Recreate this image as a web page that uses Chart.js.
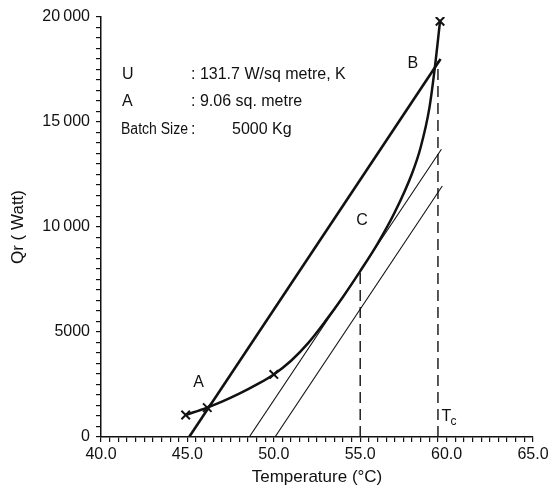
<!DOCTYPE html>
<html>
<head>
<meta charset="utf-8">
<script src="https://cdn.jsdelivr.net/npm/chart.js@4.4.1/dist/chart.umd.min.js"></script>
<style>
  html, body { margin: 0; padding: 0; background: #fff; }
  #wrap { width: 554px; height: 492px; }
</style>
</head>
<body>
<div id="wrap"><canvas id="qrChart"></canvas></div>
<script>
// heat generation curve
const curveTemp = [44.9, 46.15, 47, 48, 49, 50, 51, 52, 53, 54, 55, 56, 57, 58, 58.5, 59, 59.33, 59.62]
const curveQ = [1050, 1400, 1680, 2060, 2490, 2980, 3630, 4480, 5530, 6670, 7900, 9200, 10700, 12550, 13800, 15650, 17660, 19800]

// measured points (x marks)
const markTemp = [44.9, 46.15, 50.0, 59.62]
const markQ = [1050, 1400, 2980, 19800]

// heat removal lines
const removalTemp = [45.1, 59.65]
const removalQ = [0, 18000]
const thin1Temp = [48.58, 59.7]
const thin1Q = [0, 13700]
const thin2Temp = [50.07, 59.75]
const thin2Q = [0, 11950]

// dashed drop lines at C and Tc
const dashCTemp = [55, 55]
const dashCQ = [0, 8100]
const dashTcTemp = [59.5, 59.5]
const dashTcQ = [0, 17900]

const infoLabels = ['U', 'A', 'Batch Size']
const infoValues = [': 131.7 W/sq metre, K', ': 9.06 sq. metre', ':', '5000 Kg']

const FONT = '"Liberation Sans", Arial, sans-serif'

function pts(xs, ys) {
    return xs.map((x, i) => ({x: x, y: ys[i]}))
}

function lineSet(xs, ys, width, dash) {
    return {
        data: pts(xs, ys),
        borderColor: '#111',
        borderWidth: width,
        borderDash: dash || [],
        pointRadius: 0,
        fill: false,
    }
}

// text written on the plot (info block and point letters)
const notesPlugin = {
    id: 'notes',
    afterDatasetsDraw(chart) {
        const ctx = chart.ctx
        const xs = chart.scales.x
        const ys = chart.scales.y
        ctx.save()
        ctx.fillStyle = '#111'
        ctx.textBaseline = 'middle'
        ctx.font = '16px ' + FONT
        ctx.textAlign = 'left'
        ctx.fillText(infoLabels[0], 122, 75)
        ctx.fillText(infoValues[0], 191, 75)
        ctx.fillText(infoLabels[1], 122, 102)
        ctx.fillText(infoValues[1], 191, 102)
        ctx.fillText(infoLabels[2], 121, 130, 67)
        ctx.fillText(infoValues[2], 191, 130)
        ctx.fillText(infoValues[3], 232, 130)

        ctx.textAlign = 'center'
        ctx.fillText('A', xs.getPixelForValue(45.65), ys.getPixelForValue(2600))
        ctx.fillText('B', xs.getPixelForValue(58.05), ys.getPixelForValue(17800))
        ctx.fillText('C', xs.getPixelForValue(55.1), ys.getPixelForValue(10300))
        ctx.textAlign = 'left'
        const tx = xs.getPixelForValue(59.7)
        const ty = ys.getPixelForValue(950)
        ctx.fillText('T', tx, ty)
        ctx.font = '12px ' + FONT
        ctx.fillText('c', tx + 9, ty + 5)
        ctx.restore()
    }
}

const chart = new Chart(document.getElementById('qrChart'), {
    type: 'line',
    data: {
        datasets: [
            lineSet(removalTemp, removalQ, 2.6),
            lineSet(thin1Temp, thin1Q, 1.1),
            lineSet(thin2Temp, thin2Q, 1.1),
            lineSet(dashCTemp, dashCQ, 1.4, [11, 6]),
            lineSet(dashTcTemp, dashTcQ, 1.4, [11, 6]),
            Object.assign(lineSet(curveTemp, curveQ, 2.5), {cubicInterpolationMode: 'monotone'}),
            {
                data: pts(markTemp, markQ),
                showLine: false,
                pointStyle: 'crossRot',
                pointRadius: 6,
                pointBorderWidth: 2,
                pointBorderColor: '#111',
                pointBackgroundColor: '#111',
            },
        ],
    },
    options: {
        responsive: true,
        maintainAspectRatio: false,
        animation: false,
        events: [],
        layout: {
            padding: {top: 17, right: 21, left: 0, bottom: 0},
        },
        plugins: {
            legend: {display: false},
            tooltip: {enabled: false},
        },
        scales: {
            x: {
                type: 'linear',
                min: 40,
                max: 65,
                afterFit: (scale) => { scale.height = 55 },
                border: {display: true, color: '#111', width: 1.5},
                grid: {drawOnChartArea: false, color: '#111', tickLength: 5, lineWidth: 1.2},
                ticks: {
                    stepSize: 0.5,
                    autoSkip: false,
                    maxRotation: 0,
                    padding: 3,
                    color: '#111',
                    font: {family: FONT, size: 16},
                    callback: (v) => (Math.abs(v % 5) < 1e-6 ? v.toFixed(1) : ''),
                },
                title: {
                    display: true,
                    text: 'Temperature (°C)',
                    color: '#111',
                    font: {family: FONT, size: 17},
                    padding: {top: 0, bottom: 4},
                },
            },
            y: {
                type: 'linear',
                min: 0,
                max: 20000,
                afterFit: (scale) => { scale.width = 101 },
                border: {display: true, color: '#111', width: 1.5},
                grid: {drawOnChartArea: false, color: '#111', tickLength: 5, lineWidth: 1.2},
                ticks: {
                    stepSize: 500,
                    autoSkip: false,
                    padding: 6,
                    color: '#111',
                    font: {family: FONT, size: 16},
                    callback: (v) => {
                        if (v % 5000 !== 0) return ''
                        return v >= 10000 ? String(v / 1000) + '\u2009000' : String(v)
                    },
                },
                title: {
                    display: true,
                    text: 'Qr ( Watt)',
                    color: '#111',
                    font: {family: FONT, size: 17},
                    padding: {top: 8, bottom: 0},
                },
            },
        },
    },
    plugins: [notesPlugin],
})
</script>
</body>
</html>
